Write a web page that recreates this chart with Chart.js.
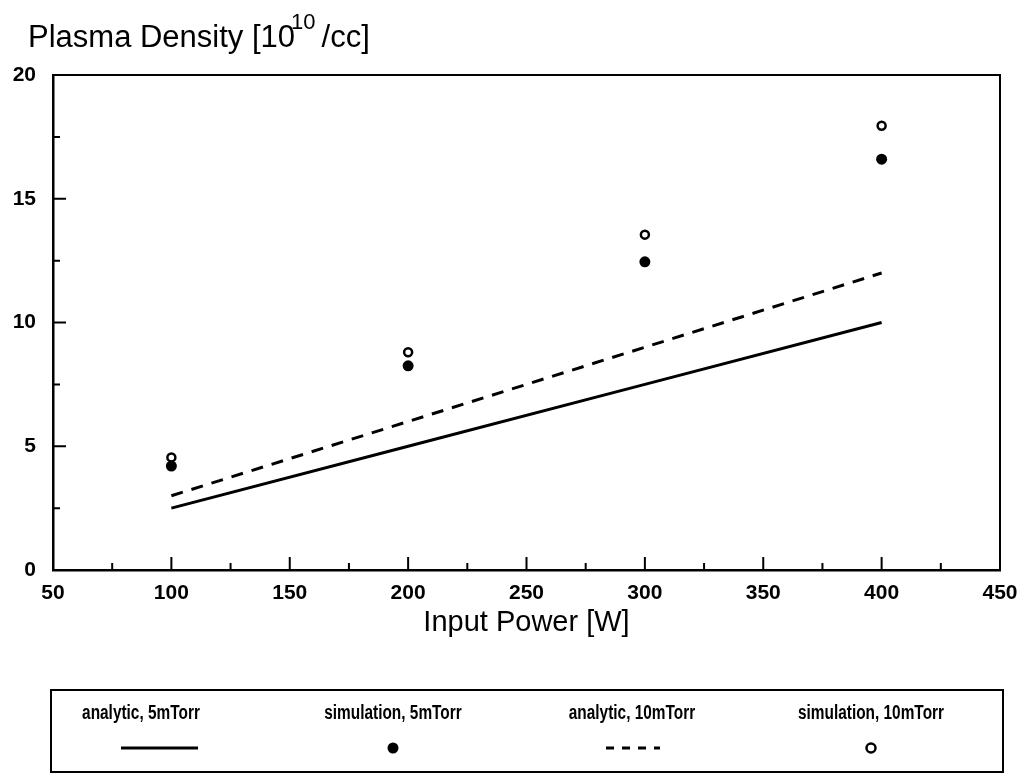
<!DOCTYPE html>
<html>
<head>
<meta charset="utf-8">
<script src="https://cdn.jsdelivr.net/npm/chart.js@4.4.0/dist/chart.umd.min.js"></script>
<style>
  html, body { margin: 0; padding: 0; background: #fff; }
  #c { display: block; }
</style>
</head>
<body>
<canvas id="c" width="1023" height="775"></canvas>
<script>
// ---- data ----
const powers = [100, 200, 300, 400];
const analytic5 = [2.5, 5.0, 7.5, 10.0];
const simulation5 = [4.2, 8.25, 12.45, 16.6];
const analytic10 = [3.0, 6.0, 9.0, 12.0];
const simulation10 = [4.55, 8.8, 13.55, 17.95];
const xTickValues = [50, 100, 150, 200, 250, 300, 350, 400, 450];
const yTickValues = [0, 5, 10, 15, 20];
const xMinorTicks = [75, 125, 175, 225, 275, 325, 375, 425];
const xMajorInner = [100, 150, 200, 250, 300, 350, 400];
const yMinorTicks = [2.5, 7.5, 12.5, 17.5];
const yMajorInner = [5, 10, 15];
const legendLabels = ['analytic, 5mTorr', 'simulation, 5mTorr', 'analytic, 10mTorr', 'simulation, 10mTorr'];
const yTitleParts = ['Plasma Density [10', '10', '/cc]'];
const xTitle = 'Input Power [W]';

const pts = (ys) => powers.map((p, i) => ({ x: p, y: ys[i] }));
const FONT = '"Liberation Sans", Arial, Helvetica, sans-serif';

const decor = {
  id: 'decor',
  afterDraw(chart) {
    const ctx = chart.ctx;
    const a = chart.chartArea;
    const xs = chart.scales.x, ys = chart.scales.y;
    ctx.save();
    ctx.strokeStyle = '#000';
    ctx.fillStyle = '#000';
    // frame top/right
    ctx.lineWidth = 2;
    ctx.beginPath();
    ctx.moveTo(a.left, a.top);
    ctx.lineTo(a.right, a.top);
    ctx.lineTo(a.right, a.bottom);
    ctx.stroke();
    // inner ticks
    ctx.lineWidth = 2;
    ctx.beginPath();
    xMajorInner.forEach(v => { const px = xs.getPixelForValue(v); ctx.moveTo(px, a.bottom); ctx.lineTo(px, a.bottom - 13); });
    xMinorTicks.forEach(v => { const px = xs.getPixelForValue(v); ctx.moveTo(px, a.bottom); ctx.lineTo(px, a.bottom - 7); });
    yMajorInner.forEach(v => { const py = ys.getPixelForValue(v); ctx.moveTo(a.left, py); ctx.lineTo(a.left + 13, py); });
    yMinorTicks.forEach(v => { const py = ys.getPixelForValue(v); ctx.moveTo(a.left, py); ctx.lineTo(a.left + 7, py); });
    ctx.stroke();

    // y title with superscript
    ctx.textAlign = 'left';
    ctx.textBaseline = 'alphabetic';
    ctx.font = '31px ' + FONT;
    let x = 28;
    ctx.fillText(yTitleParts[0], x, 47);
    x += ctx.measureText(yTitleParts[0]).width;
    ctx.font = '22px ' + FONT;
    ctx.fillText(yTitleParts[1], x - 4, 29);
    x += ctx.measureText(yTitleParts[1]).width + 2;
    ctx.font = '31px ' + FONT;
    ctx.fillText(yTitleParts[2], x, 47);

    // x title
    ctx.textAlign = 'center';
    ctx.font = '29px ' + FONT;
    ctx.fillText(xTitle, (a.left + a.right) / 2, 631);

    // legend box
    ctx.lineWidth = 2;
    ctx.strokeRect(51, 690, 952, 82);
    const centers = [141, 393, 632, 871];
    ctx.font = 'bold 20px ' + FONT;
    legendLabels.forEach((t, i) => {
      ctx.save();
      ctx.translate(centers[i], 719);
      ctx.scale(0.77, 1);
      ctx.textAlign = 'center';
      ctx.fillText(t, 0, 0);
      ctx.restore();
    });
    const sy = 748;
    // solid
    ctx.lineWidth = 3;
    ctx.setLineDash([]);
    ctx.beginPath(); ctx.moveTo(121, sy); ctx.lineTo(198, sy); ctx.stroke();
    // filled dot
    ctx.beginPath(); ctx.arc(393, sy, 5.5, 0, Math.PI * 2); ctx.fill();
    // dashed
    ctx.setLineDash([8, 8]);
    ctx.beginPath(); ctx.moveTo(606, sy); ctx.lineTo(660, sy); ctx.stroke();
    ctx.setLineDash([]);
    // open circle
    ctx.lineWidth = 2.5;
    ctx.beginPath(); ctx.arc(871, sy, 4.5, 0, Math.PI * 2); ctx.stroke();
    ctx.restore();
  }
};

new Chart(document.getElementById('c'), {
  type: 'scatter',
  data: {
    datasets: [
      { label: legendLabels[0], data: pts(analytic5), showLine: true, borderColor: '#000', borderWidth: 3, pointRadius: 0, fill: false },
      { label: legendLabels[1], data: pts(simulation5), showLine: false, backgroundColor: '#000', borderColor: '#000', pointRadius: 5.5, borderWidth: 0 },
      { label: legendLabels[2], data: pts(analytic10), showLine: true, borderColor: '#000', borderWidth: 3, borderDash: [12, 9], pointRadius: 0, fill: false },
      { label: legendLabels[3], data: pts(simulation10), showLine: false, backgroundColor: '#fff', borderColor: '#000', pointRadius: 4, borderWidth: 2.5 }
    ]
  },
  options: {
    responsive: false,
    animation: false,
    layout: { padding: { top: 75, right: 23, bottom: 165, left: 0 } },
    plugins: { legend: { display: false }, tooltip: { enabled: false } },
    scales: {
      x: {
        type: 'linear', min: 50, max: 450,
        afterBuildTicks: (s) => { s.ticks = xTickValues.map(v => ({ value: v })); },
        afterFit: (s) => { s.height = 40; s.paddingLeft = 0; s.paddingRight = 0; },
        grid: { display: false, drawTicks: false },
        border: { display: true, color: '#000', width: 2.5 },
        ticks: { color: '#000', padding: 11, font: { family: FONT, size: 21, weight: 'bold' } }
      },
      y: {
        type: 'linear', min: 0, max: 20,
        afterBuildTicks: (s) => { s.ticks = yTickValues.map(v => ({ value: v })); },
        afterFit: (s) => { s.width = 53; s.paddingTop = 0; s.paddingBottom = 0; },
        grid: { display: false, drawTicks: false },
        border: { display: true, color: '#000', width: 2.5 },
        ticks: { color: '#000', padding: 17, font: { family: FONT, size: 21, weight: 'bold' } }
      }
    }
  },
  plugins: [decor]
});
</script>
</body>
</html>
